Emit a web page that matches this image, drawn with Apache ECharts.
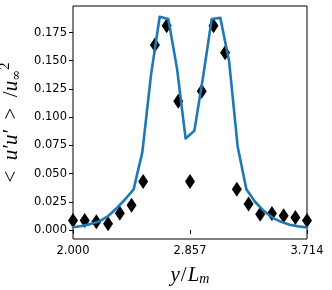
<!DOCTYPE html>
<html>
<head>
<meta charset="utf-8">
<script src="https://cdn.jsdelivr.net/npm/echarts@6/dist/echarts.min.js"></script>
<style>
html,body{margin:0;padding:0;background:#fff;}
#chart{width:332px;height:290px;}
</style>
</head>
<body>
<div id="chart"></div>
<script>
// Simulation curve (blue line)
const lineX = [2.000, 2.063, 2.127, 2.190, 2.254, 2.317, 2.381, 2.444, 2.508, 2.571,
               2.635, 2.698, 2.762, 2.825, 2.889, 2.952, 3.016, 3.079, 3.143, 3.206,
               3.270, 3.333, 3.397, 3.460, 3.524, 3.587, 3.651, 3.714];
const lineY = [0.0024, 0.0035, 0.0052, 0.0075, 0.0120, 0.0190, 0.0270, 0.0360, 0.0690, 0.1370,
               0.1890, 0.1870, 0.1430, 0.0810, 0.0880, 0.1350, 0.1870, 0.1880, 0.1500, 0.0740,
               0.0360, 0.0250, 0.0170, 0.0110, 0.0072, 0.0046, 0.0032, 0.0022];
// Reference data (black diamonds)
const markX = [2.000, 2.086, 2.171, 2.257, 2.343, 2.429, 2.514, 2.600, 2.686, 2.771,
               2.857, 2.943, 3.029, 3.114, 3.200, 3.286, 3.371, 3.457, 3.543, 3.629, 3.714];
const markY = [0.0085, 0.0083, 0.0072, 0.0055, 0.0148, 0.0220, 0.0430, 0.1640, 0.1810, 0.1140,
               0.0430, 0.1230, 0.1810, 0.1570, 0.0360, 0.0230, 0.0140, 0.0145, 0.0125, 0.0110, 0.0085];
// Tick labels
const xTicks = [2.000, 2.857, 3.714];
const yTicks = [0, 0.025, 0.05, 0.075, 0.1, 0.125, 0.15, 0.175];

const chart = echarts.init(document.getElementById('chart'), null, {renderer: 'canvas'});
const tickFont = {fontFamily: 'DejaVu Sans', fontSize: 11.5, color: '#000'};
chart.setOption({
  animation: false,
  backgroundColor: '#fff',
  grid: {left: 73, right: 25, top: 6, bottom: 51, show: true, borderColor: '#000', borderWidth: 1,
         backgroundColor: 'transparent', containLabel: false, outerBoundsMode: 'none'},
  xAxis: {
    type: 'value', min: 2.0, max: 3.714,
    axisLine: {show: false},
    splitLine: {show: false},
    axisTick: {show: true, inside: false, length: 4, lineStyle: {color: '#000'}, customValues: xTicks},
    axisLabel: Object.assign({margin: 6, customValues: xTicks, formatter: v => v.toFixed(3), showMinLabel: true, showMaxLabel: true}, tickFont),
    name: '{a|y}{b|/}{a|L}{s|m}',
    nameLocation: 'middle', nameGap: 25,
    nameTextStyle: {rich: {
      a: {fontFamily: 'Liberation Serif', fontStyle: 'italic', fontSize: 21, color: '#000'},
      b: {fontFamily: 'Liberation Serif', fontSize: 21, color: '#000', padding: [0, 1, 0, 1]},
      s: {fontFamily: 'Liberation Serif', fontStyle: 'italic', fontSize: 14, color: '#000', verticalAlign: 'bottom', padding: [8, 0, 0, 0]}
    }}
  },
  yAxis: {
    type: 'value', min: -0.008, max: 0.1985,
    axisLine: {show: false},
    splitLine: {show: false},
    axisTick: {show: true, inside: false, length: 4, lineStyle: {color: '#000'}, customValues: yTicks},
    axisLabel: Object.assign({margin: 6, customValues: yTicks, formatter: v => v.toFixed(3)}, tickFont),
    name: '{b|<  }{a|u′u′}{b|  >  /}{a|u}{s|∞}{p|2}',
    nameLocation: 'middle', nameGap: 42, nameRotate: 90,
    nameTextStyle: {rich: {
      a: {fontFamily: 'Liberation Serif', fontStyle: 'italic', fontSize: 21, color: '#000'},
      b: {fontFamily: 'Liberation Serif', fontSize: 21, color: '#000'},
      s: {fontFamily: 'DejaVu Serif', fontSize: 13, color: '#000', padding: [10, 0, 0, 0]},
      p: {fontFamily: 'Liberation Serif', fontSize: 15, color: '#000', padding: [0, 0, 14, 0]}
    }}
  },
  series: [
    {
      type: 'scatter',
      data: markX.map((x, i) => [x, markY[i]]),
      symbol: 'diamond', symbolSize: [10, 15],
      itemStyle: {color: '#000', opacity: 1},
      z: 2, clip: true
    },
    {
      type: 'line',
      data: lineX.map((x, i) => [x, lineY[i]]),
      showSymbol: false, symbol: 'none',
      lineStyle: {color: '#1f77b4', width: 2.6, join: 'round', cap: 'round'},
      z: 3, clip: true
    }
  ]
});
</script>
</body>
</html>
